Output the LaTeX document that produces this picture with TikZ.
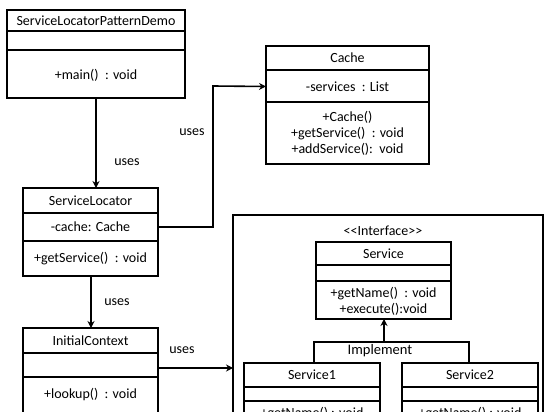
\documentclass[tikz,border=0pt]{standalone}
\usepackage{fontspec}
\setmainfont{Carlito}
\usetikzlibrary{arrows.meta}
\begin{document}
\begin{tikzpicture}[x=1pt,y=-1pt,
  box/.style={draw,line width=1.6pt,rectangle,inner sep=0pt,outer sep=0pt,anchor=north west},
  txt/.style={font=\fontsize{14}{16}\selectfont,inner sep=0pt,align=center},
  divider/.style={line width=1.6pt},
  conn/.style={line width=1.6pt,-{Stealth[length=7pt,width=7pt]}},
  plain/.style={line width=1.6pt}]
\useasboundingbox (0,0) rectangle (554,412);
\clip (0,0) rectangle (554,412);
\fill[white] (0,0) rectangle (554,412);

% ServiceLocatorPatternDemo
\node[box,minimum width=178pt,minimum height=88pt] (demo) at (7,10) {};
\draw[divider] (7,31) -- (185,31);
\draw[divider] (7,50) -- (185,50);
\node[txt] (demoname) at (96,21) {ServiceLocatorPatternDemo};
\node[txt] (demoop) at (96,75) {+main()\ \ : void};

% Cache
\node[box,minimum width=163pt,minimum height=118pt] (cache) at (266,46) {};
\draw[divider] (266,70) -- (429,70);
\draw[divider] (266,102) -- (429,102);
\node[txt] (cachename) at (347.5,58) {Cache};
\node[txt] (cacheattr) at (347.5,86.5) {-services\ \ : List};
\node[txt] (cacheops) at (347.5,133) {+Cache()\\+getService()\ \ : void\\+addService():\ \ void};

% ServiceLocator
\node[box,minimum width=135pt,minimum height=88pt] (locator) at (23,188) {};
\draw[divider] (23,213) -- (158,213);
\draw[divider] (23,241) -- (158,241);
\node[txt] (locname) at (90.5,201) {ServiceLocator};
\node[txt] (locattr) at (90.5,227) {-cache: Cache};
\node[txt] (locop) at (90.5,259) {+getService()\ \ : void};

% InitialContext
\node[box,minimum width=135pt,minimum height=100pt] (initial) at (23,328) {};
\draw[divider] (23,353) -- (158,353);
\draw[divider] (23,377) -- (158,377);
\node[txt] (initname) at (90.5,341) {InitialContext};
\node[txt] (initop) at (90.5,395) {+lookup()\ \ : void};

% Interface container
\node[box,minimum width=310pt,minimum height=210pt] (iface) at (233,215) {};
\node[txt] (ifacelabel) at (383,231) {{<}{<}Interface{>}{>}};

% Service
\node[box,minimum width=135pt,minimum height=77pt] (service) at (316,242) {};
\draw[divider] (316,265) -- (451,265);
\draw[divider] (316,281) -- (451,281);
\node[txt] (servname) at (383.5,254) {Service};
\node[txt] (servops) at (383.5,301) {+getName()\ \ : void\\+execute():void};

% Service1
\node[box,minimum width=136pt,minimum height=70pt] (service1) at (244,363) {};
\draw[divider] (244,387) -- (380,387);
\draw[divider] (244,401) -- (380,401);
\node[txt] (s1name) at (312,375) {Service1};
\node[txt] (s1op) at (312,414) {+getName() : void};

% Service2
\node[box,minimum width=136pt,minimum height=70pt] (service2) at (402,363) {};
\draw[divider] (402,387) -- (538,387);
\draw[divider] (402,401) -- (538,401);
\node[txt] (s2name) at (470,375) {Service2};
\node[txt] (s2op) at (470,414) {+getName() : void};

% Implement bracket
\coordinate (bracketmid) at (384,342);
\draw[plain] (service1.north west -| 314,0) -- (314,342) -- (469,342) -- (service2.north west -| 469,0);
\draw[conn] (bracketmid) -- (bracketmid |- service.south);
\node[txt,font=\fontsize{14.5}{17}\selectfont] (impl) at (380,351) {Implement};

% connectors
\draw[conn] (96,98) -- (96,188);
\node[txt] (uses1) at (127,162) {uses};

\draw[conn] (locator.east |- locattr) -- (213,227) -- (213,86) -- (cache.west |- cacheattr);
\node[txt] (uses2) at (192,132) {uses};

\draw[conn] (91,276) -- (91,328);
\node[txt] (uses3) at (117,302) {uses};

\draw[conn] (158,368) -- (iface.west |- 0,368);
\node[txt] (uses4) at (182,350) {uses};
\end{tikzpicture}
\end{document}
